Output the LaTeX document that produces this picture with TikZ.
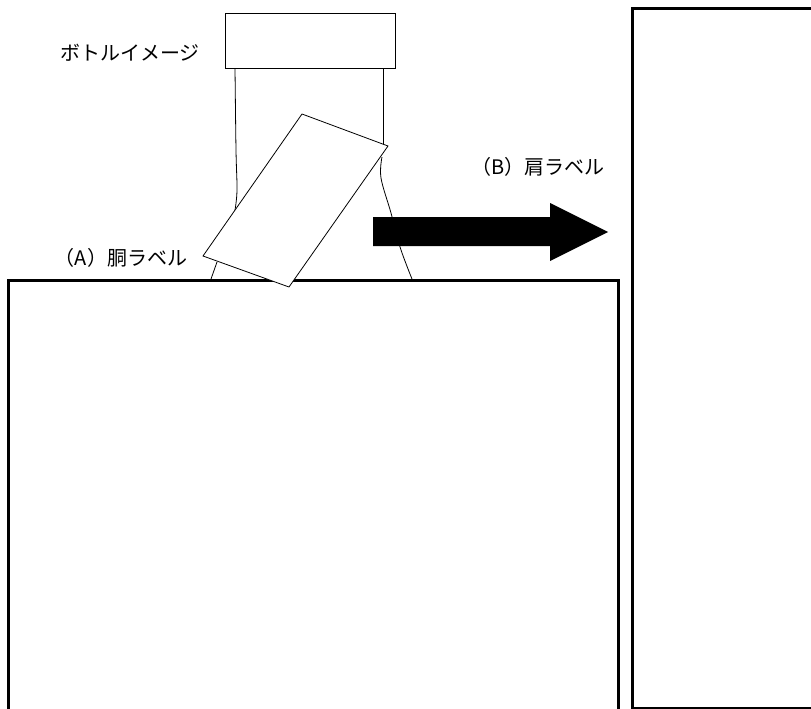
\documentclass[tikz,border=0pt]{standalone}
\usepackage{fontspec}
\newfontfamily\jpfont{Noto Sans CJK JP}
\begin{document}
\begin{tikzpicture}[x=1pt,y=-1pt,
  thinline/.style={line width=0.8pt,black},
  boxline/.style={line width=3pt,black},
  lbl/.style={font=\jpfont\fontsize{20}{24}\selectfont,inner sep=0pt,anchor=center}]
\useasboundingbox[fill=white] (0,0) rectangle (811,709);
\begin{scope}
\clip (0,0) rectangle (811,709);
% bottle body lines
\draw[thinline] plot[smooth,tension=0.6] coordinates {(235,68) (236,150) (237,190) (235,210)};
\draw[thinline] (217,262) -- (211,279);
\draw[thinline] (383,68) -- (383,146);
\draw[thinline] plot[smooth,tension=0.6] coordinates {(382,157) (381,178) (391,213) (400,247) (412,279)};
% cap
\node[draw,thinline,fill=white,minimum width=170pt,minimum height=55pt,inner sep=0pt] (cap) at (310,40.5) {};
% boxes
\draw[boxline] (8,720) |- (618,280) -- (618,720);
\draw[boxline] (632,720) |- (830,9);
\draw[boxline] (632,708) -- (830,708);
% body label
\draw[thinline,fill=white] (302,114) -- (388,146) -- (289,287) -- (203,256) -- cycle;
% arrow
\fill[black] (373,217) -- (550,217) -- (550,203) -- (608,232) -- (550,261) -- (550,246) -- (373,246) -- cycle;
\end{scope}
\node[lbl] (bottle) at (130,53) {ボトルイメージ};
\node[lbl] (labA) at (121,258) {（A）胴ラベル};
\node[lbl] (labB) at (538,167) {（B）肩ラベル};
\end{tikzpicture}
\end{document}
